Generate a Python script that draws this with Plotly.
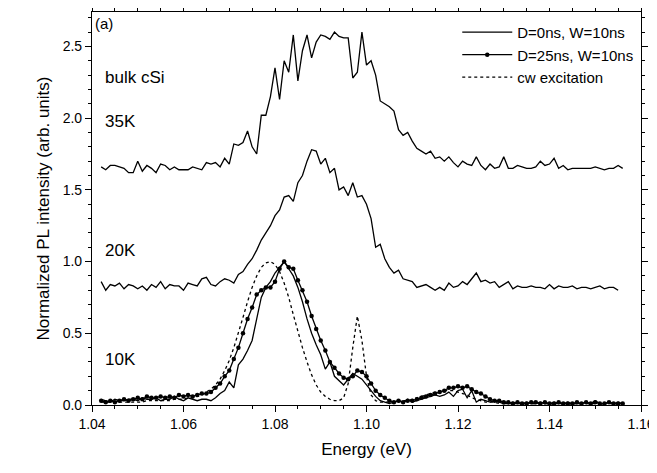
import plotly.graph_objects as go

# energy grid (eV), 1 meV steps
energy = [round(1.042 + 0.001 * i, 3) for i in range(115)]

pl_35k = [
    1.66, 1.64, 1.67, 1.67, 1.66, 1.65, 1.62, 1.62, 1.70, 1.63, 1.67, 1.65, 1.62, 1.68, 1.67, 1.64,
    1.66, 1.64, 1.64, 1.64, 1.66, 1.65, 1.64, 1.69, 1.68, 1.69, 1.66, 1.72,
    1.68, 1.82, 1.81, 1.83, 1.91, 1.80, 1.75, 2.02, 2.02, 2.15, 2.35, 2.13, 2.40, 2.32, 2.58, 2.26,
    2.47, 2.58, 2.42, 2.53, 2.58, 2.57, 2.55, 2.60, 2.57, 2.56, 2.56, 2.28, 2.32, 2.60, 2.37, 2.40,
    2.30, 2.12, 2.10, 2.08, 2.05, 1.92, 1.88, 1.90, 1.84, 1.79, 1.77, 1.75, 1.77, 1.72, 1.73, 1.70,
    1.73, 1.69, 1.66, 1.70, 1.68, 1.67, 1.73, 1.67, 1.64, 1.68, 1.65, 1.66, 1.73, 1.65, 1.65, 1.67,
    1.66, 1.65, 1.65, 1.66, 1.70, 1.67, 1.68, 1.72, 1.65, 1.67, 1.64, 1.65, 1.65, 1.65, 1.65, 1.65,
    1.66, 1.65, 1.64, 1.65, 1.65, 1.67, 1.65, 1.63, 1.60,
]

pl_20k = [
    0.86, 0.80, 0.84, 0.83, 0.85, 0.81, 0.84, 0.83, 0.81, 0.83, 0.80, 0.84, 0.82, 0.86, 0.81, 0.84,
    0.83, 0.83, 0.80, 0.85, 0.84, 0.83, 0.88, 0.89, 0.84, 0.83, 0.86, 0.88, 0.87, 0.85,
    0.91, 0.93, 0.98, 1.02, 1.08, 1.15, 1.20, 1.25, 1.32, 1.36, 1.45, 1.46, 1.42, 1.55, 1.60, 1.70,
    1.78, 1.77, 1.68, 1.72, 1.62, 1.65, 1.50, 1.52, 1.46, 1.55, 1.45, 1.46, 1.40, 1.30, 1.10,
    1.12, 1.02, 0.96, 0.92, 0.94, 0.88, 0.87, 0.86, 0.82, 0.83, 0.84, 0.82, 0.80, 0.82, 0.80,
    0.85, 0.82, 0.83, 0.86, 0.84, 0.88, 0.92, 0.86, 0.87, 0.85, 0.86, 0.82, 0.84, 0.86, 0.81, 0.83,
    0.82, 0.82, 0.83, 0.82, 0.82, 0.81, 0.84, 0.81, 0.83, 0.82, 0.82, 0.83, 0.81, 0.82, 0.82, 0.81,
    0.82, 0.83, 0.81, 0.82, 0.82, 0.80,
]

pl_10k_d0 = [
    0.04, 0.03, 0.02, 0.04, 0.03, 0.03, 0.04, 0.04, 0.03, 0.05, 0.04, 0.04, 0.05, 0.03, 0.04, 0.04,
    0.06, 0.04, 0.03, 0.05, 0.04, 0.03, 0.04, 0.04, 0.03, 0.05, 0.08, 0.10, 0.16, 0.12, 0.28, 0.32,
    0.38, 0.45, 0.60, 0.75, 0.82, 0.86, 0.92, 0.96, 1.00, 0.95, 0.90, 0.82, 0.72, 0.60, 0.50, 0.42,
    0.35, 0.25, 0.30, 0.20, 0.17, 0.14, 0.18, 0.22, 0.20, 0.18, 0.14, 0.10, 0.06, 0.03, 0.02, 0.01,
    0.02, 0.03, 0.02, 0.04, 0.02, 0.03, 0.04, 0.05, 0.06, 0.07, 0.06, 0.07, 0.09, 0.06, 0.10, 0.11,
    0.05, 0.10, 0.02, 0.04, 0.03, 0.02, 0.03, 0.02, 0.01, 0.01, 0.02, 0.01, 0.01, 0.02, 0.01, 0.01,
    0.02, 0.01, 0.01, 0.02, 0.01, 0.01, 0.02, 0.01, 0.01, 0.01, 0.02, 0.01, 0.03, 0.01, 0.01, 0.02,
    0.01, 0.02, 0.01,
]

pl_10k_d25 = [
    0.03, 0.02, 0.03, 0.02, 0.03, 0.04, 0.03, 0.04, 0.05, 0.04, 0.06, 0.05, 0.05, 0.06, 0.05, 0.06,
    0.05, 0.07, 0.06, 0.07, 0.06, 0.07, 0.08, 0.08, 0.09, 0.12, 0.15, 0.20, 0.24, 0.32, 0.40, 0.50,
    0.60, 0.68, 0.77, 0.80, 0.82, 0.82, 0.86, 0.95, 1.00, 0.96, 0.95, 0.87, 0.80, 0.72, 0.62, 0.53,
    0.45, 0.38, 0.30, 0.26, 0.22, 0.19, 0.18, 0.20, 0.24, 0.23, 0.20, 0.15, 0.10, 0.07, 0.05, 0.03,
    0.02, 0.03, 0.02, 0.03, 0.03, 0.04, 0.05, 0.06, 0.07, 0.08, 0.09, 0.10, 0.12, 0.12, 0.13, 0.12,
    0.13, 0.11, 0.09, 0.08, 0.06, 0.04, 0.03, 0.03, 0.02, 0.02, 0.01, 0.02, 0.01, 0.01, 0.02, 0.02,
    0.01, 0.02, 0.01, 0.01, 0.02, 0.01, 0.01, 0.01, 0.02, 0.01, 0.02, 0.01, 0.02, 0.01, 0.01, 0.02,
    0.01, 0.01, 0.01,
]

pl_cw = [
    0.02, 0.02, 0.02, 0.02, 0.02, 0.02, 0.02, 0.02, 0.02, 0.02, 0.03, 0.03, 0.03, 0.03, 0.03, 0.03,
    0.04, 0.04, 0.04, 0.05, 0.05, 0.06, 0.07, 0.09, 0.11, 0.14, 0.18, 0.24, 0.31, 0.40, 0.50, 0.61,
    0.72, 0.82, 0.90, 0.96, 0.99, 1.00, 0.98, 0.93, 0.85, 0.75, 0.63, 0.51, 0.40, 0.30, 0.21, 0.14,
    0.09, 0.06, 0.04, 0.03, 0.03, 0.05, 0.15, 0.40, 0.62, 0.45, 0.20, 0.07, 0.03, 0.02, 0.02, 0.02,
    0.02, 0.02, 0.03, 0.03, 0.04, 0.05, 0.06, 0.07, 0.08, 0.09, 0.10, 0.10, 0.10, 0.10, 0.09, 0.08,
    0.07, 0.05, 0.04, 0.03, 0.02, 0.02, 0.02, 0.01, 0.01, 0.01, 0.01, 0.01, 0.01, 0.01, 0.01, 0.01,
    0.01, 0.01, 0.01, 0.01, 0.01, 0.01, 0.01, 0.01, 0.01, 0.01, 0.01, 0.01, 0.01, 0.01, 0.01, 0.01,
    0.01, 0.01, 0.01,
]

labels = [("(a)", 1.0402, 2.66, 15), ("bulk cSi", 1.0425, 2.28, 17), ("35K", 1.0425, 1.98, 17),
          ("20K", 1.0425, 1.08, 17), ("10K", 1.0425, 0.32, 17)]

font = "Liberation Sans, Arial, sans-serif"
fig = go.Figure()
line = dict(color="black", width=1.3)
fig.add_trace(go.Scatter(x=energy, y=pl_35k, mode="lines", line=line, name="D=0ns, W=10ns"))
fig.add_trace(go.Scatter(x=energy, y=pl_20k, mode="lines", line=line, showlegend=False))
fig.add_trace(go.Scatter(x=energy, y=pl_10k_d0, mode="lines", line=line, showlegend=False))
fig.add_trace(go.Scatter(x=energy, y=pl_10k_d25, mode="lines+markers", line=line,
                         marker=dict(size=4.5, color="black"), name="D=25ns, W=10ns"))
fig.add_trace(go.Scatter(x=energy, y=pl_cw, mode="lines",
                         line=dict(color="black", width=1.3, dash="dot"), name="cw excitation"))

for text, x, y, size in labels:
    fig.add_annotation(x=x, y=y, text=text, showarrow=False, xanchor="left",
                       font=dict(size=size, color="black"))

axis = dict(showline=True, linecolor="black", linewidth=1.2, mirror="ticks", ticks="outside",
            ticklen=6, tickcolor="black", showgrid=False, zeroline=False, automargin=False,
            tickfont=dict(size=14, color="black"),
            minor=dict(ticks="outside", ticklen=3, tickcolor="black"))
fig.update_xaxes(axis, range=[1.04, 1.16], dtick=0.02, tickformat=".2f",
                 title=dict(text="Energy (eV)", font=dict(size=17, color="black"), standoff=12))
fig.update_yaxes(axis, range=[0, 2.74], dtick=0.5, tickformat=".1f",
                 title=dict(text="Normalized PL intensity (arb. units)", font=dict(size=17, color="black"),
                            standoff=8))
fig.update_layout(width=657, height=473, margin=dict(l=84, r=24, t=4, b=76),
                  plot_bgcolor="white", paper_bgcolor="white", font=dict(family=font),
                  legend=dict(x=0.995, y=0.99, xanchor="right", yanchor="top",
                              font=dict(size=15, color="black"), bgcolor="rgba(0,0,0,0)",
                              tracegroupgap=0, itemwidth=50))
fig.write_html("out.html")
